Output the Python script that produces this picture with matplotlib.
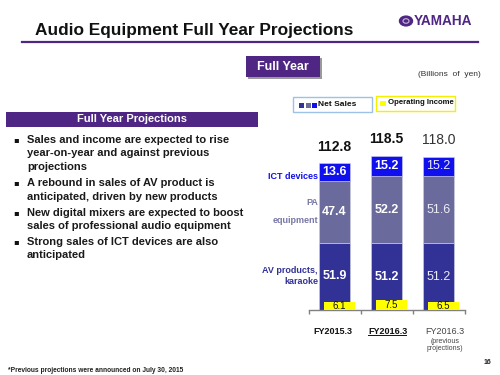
import matplotlib
matplotlib.use("Agg")
import matplotlib.pyplot as plt
from matplotlib.patches import Rectangle, Circle
import numpy as np

# ---- data ----
categories = ["FY2015.3", "FY2016.3", "FY2016.3"]
av_products = [51.9, 51.2, 51.2]
pa_equipment = [47.4, 52.2, 51.6]
ict_devices = [13.6, 15.2, 15.2]
totals = [112.8, 118.5, 118.0]
operating_income = [6.1, 7.5, 6.5]
bullets = [
    ["Sales and income are expected to rise", "year-on-year and against previous", "projections"],
    ["A rebound in sales of AV product is", "anticipated, driven by new products"],
    ["New digital mixers are expected to boost", "sales of professional audio equipment"],
    ["Strong sales of ICT devices are also", "anticipated"],
]

plt.rcParams['font.family'] = ['Liberation Sans', 'DejaVu Sans']

W, H = 500, 375
fig = plt.figure(figsize=(5, 3.75), dpi=100)
fig.patch.set_facecolor("white")

def fx(x):
    return x / W

def fy(y):
    return 1 - y / H

PURPLE = "#4F2683"
C_AV = "#323296"
C_PA = "#6A6A9C"
C_ICT = "#1010EE"

# ---- header ----
fig.text(fx(35), fy(31), "Audio Equipment Full Year Projections", fontsize=12.4, fontweight="bold",
         color="#111111", va="center", ha="left")
fig.add_artist(plt.Line2D([fx(22), fx(478)], [fy(41.5), fy(41.5)], color=PURPLE, lw=1.6))
# logo
fig.add_artist(Circle((fx(406), fy(21)), 6.5 / W, transform=fig.transFigure, color=PURPLE))
fig.add_artist(Circle((fx(406), fy(21)), 3.0 / W, transform=fig.transFigure, facecolor="none",
                      edgecolor="#c8b8dc", lw=0.8))
fig.text(fx(414), fy(21), "YAMAHA", fontsize=9.8, fontweight="bold", color=PURPLE,
         va="center", ha="left")

# Full Year box
fig.add_artist(Rectangle((fx(248), fy(79)), 74 / W, 21 / H, transform=fig.transFigure,
                         facecolor="#9a9a9a", edgecolor="none"))
fig.add_artist(Rectangle((fx(246), fy(77)), 74 / W, 21 / H, transform=fig.transFigure,
                         facecolor=PURPLE, edgecolor="none"))
fig.text(fx(283), fy(66.5), "Full Year", fontsize=9, fontweight="bold", color="white",
         va="center", ha="center")
fig.text(fx(481), fy(74), "(Billions  of  yen)", fontsize=6, color="#333333", va="center", ha="right")

# legend boxes
fig.add_artist(Rectangle((fx(293), fy(112)), 79 / W, 15 / H, transform=fig.transFigure,
                         facecolor="white", edgecolor="#9cc3e6", lw=1))
for i, c in enumerate([C_AV, C_PA, C_ICT]):
    fig.add_artist(Rectangle((fx(299 + i * 6.5), fy(107.5)), 5 / W, 5 / H,
                             transform=fig.transFigure, facecolor=c, edgecolor="none"))
fig.text(fx(318.5), fy(104.5), "Net Sales", fontsize=6, fontweight="bold", color="#111111",
         va="center", ha="left")
fig.add_artist(Rectangle((fx(376), fy(111)), 79 / W, 15 / H, transform=fig.transFigure,
                         facecolor="white", edgecolor="#f5f000", lw=1))
fig.add_artist(Rectangle((fx(380), fy(106)), 6 / W, 5 / H, transform=fig.transFigure,
                         facecolor="#ffff00", edgecolor="none"))
fig.text(fx(388), fy(103), "Operating Income", fontsize=5.6, fontweight="bold", color="#111111",
         va="center", ha="left")

# left panel
fig.add_artist(Rectangle((fx(6), fy(127)), 252 / W, 15 / H, transform=fig.transFigure,
                         facecolor=PURPLE, edgecolor="none"))
fig.text(fx(132), fy(119.5), "Full Year Projections", fontsize=8, fontweight="bold",
         color="white", va="center", ha="center")

y = 140
for b in bullets:
    fig.text(fx(13), fy(y), "\u25aa", fontsize=6, color="#111111", va="center", ha="left",
             family="DejaVu Sans")
    for line in b:
        fig.text(fx(27), fy(y), line, fontsize=8, fontweight="bold", color="#1a1a1a",
                 va="center", ha="left")
        y += 13.5
    y += 2.5

# footer
fig.text(fx(8), fy(370), "*Previous projections were announced on July 30, 2015", fontsize=4.8,
         fontweight="bold", color="#222222", va="center", ha="left")
fig.text(fx(491), fy(362), "16", fontsize=5, fontweight="bold", color="#222222", va="center",
         ha="right")

# ---- chart ----
ax = fig.add_axes([fx(308.5), (H - 310) / H, 156 / W, 169 / H])
ax.set_xlim(-0.5, 2.5)
ax.set_ylim(0, 130)
x = np.arange(len(categories))
av = np.array(av_products)
pa = np.array(pa_equipment)
ict = np.array(ict_devices)
bw = 0.6
ax.bar(x, av, width=bw, color=C_AV, edgecolor="#d0d0e0", lw=0.4, zorder=2)
ax.bar(x, pa, bottom=av, width=bw, color=C_PA, edgecolor="#d0d0e0", lw=0.4, zorder=2)
ax.bar(x, ict, bottom=av + pa, width=bw, color=C_ICT, edgecolor="#d0d0e0", lw=0.4, zorder=2)
ax.bar(x + 0.09, operating_income, width=0.6, color="#ffff00", edgecolor="none", zorder=3)

for i in range(len(x)):
    bold = "bold" if i < 2 else "normal"
    tc = "white" if i < 2 else "#ececf4"
    ax.text(x[i], av[i] / 2, f"{av[i]:.1f}", ha="center", va="center", color=tc,
            fontsize=9, fontweight=bold, zorder=4)
    ax.text(x[i], av[i] + pa[i] / 2, f"{pa[i]:.1f}", ha="center", va="center", color=tc,
            fontsize=9, fontweight=bold, zorder=4)
    ax.text(x[i], av[i] + pa[i] + ict[i] / 2, f"{ict[i]:.1f}", ha="center", va="center",
            color=tc, fontsize=9, fontweight=bold, zorder=4)
    ax.annotate(f"{totals[i]:.1f}", (x[i], totals[i]), xytext=(0, 12), textcoords="offset points",
                ha="center", va="center", fontsize=10, fontweight=bold,
                color="#111111" if i < 2 else "#333333", annotation_clip=False)
    ax.text(x[i] + 0.09, operating_income[i] / 2, f"{operating_income[i]:.1f}", ha="center",
            va="center", fontsize=7, color="#111111", zorder=4)

for s in ["left", "right", "top"]:
    ax.spines[s].set_visible(False)
ax.spines["bottom"].set_color("#808080")
ax.spines["bottom"].set_linewidth(1)
ax.set_yticks([])
ax.set_xticks([-0.5, 0.5, 1.5, 2.5])
ax.set_xticklabels([])
ax.tick_params(axis="x", direction="out", length=3, color="#808080", width=1)
ax.set_facecolor("none")

# category labels
trans = ax.get_xaxis_transform()
ax.text(x[0] - 0.03, -0.13, categories[0], transform=trans, ha="center", va="center",
        fontsize=6.5, fontweight="bold", color="#111111")
ax.text(x[1] + 0.02, -0.13, categories[1], transform=trans, ha="center", va="center",
        fontsize=6.5, fontweight="bold", color="#111111")
ax.plot([x[1] - 0.35, x[1] + 0.38], [-0.147, -0.147], transform=trans, color="#111111", lw=0.7,
        clip_on=False)
ax.text(x[2] + 0.12, -0.13, categories[2], transform=trans, ha="center", va="center",
        fontsize=6.5, color="#444444")
ax.text(x[2] + 0.12, -0.21, "(previous\nprojections)", transform=trans, ha="center", va="center",
        fontsize=5, color="#444444", linespacing=1.0)

# segment name labels
fig.text(fx(318), fy(176), "ICT devices", fontsize=6.5, fontweight="bold", color=C_ICT,
         ha="right", va="center")
fig.text(fx(318), fy(211.5), "PA\nequipment", fontsize=6.5, fontweight="bold", color="#7878a8",
         ha="right", va="center", multialignment="right", linespacing=2.4)
fig.text(fx(318), fy(276), "AV products,\nkaraoke", fontsize=6.5, fontweight="bold", color=C_AV,
         ha="right", va="center", multialignment="right", linespacing=1.3)

fig.savefig("out.png", dpi=100)
